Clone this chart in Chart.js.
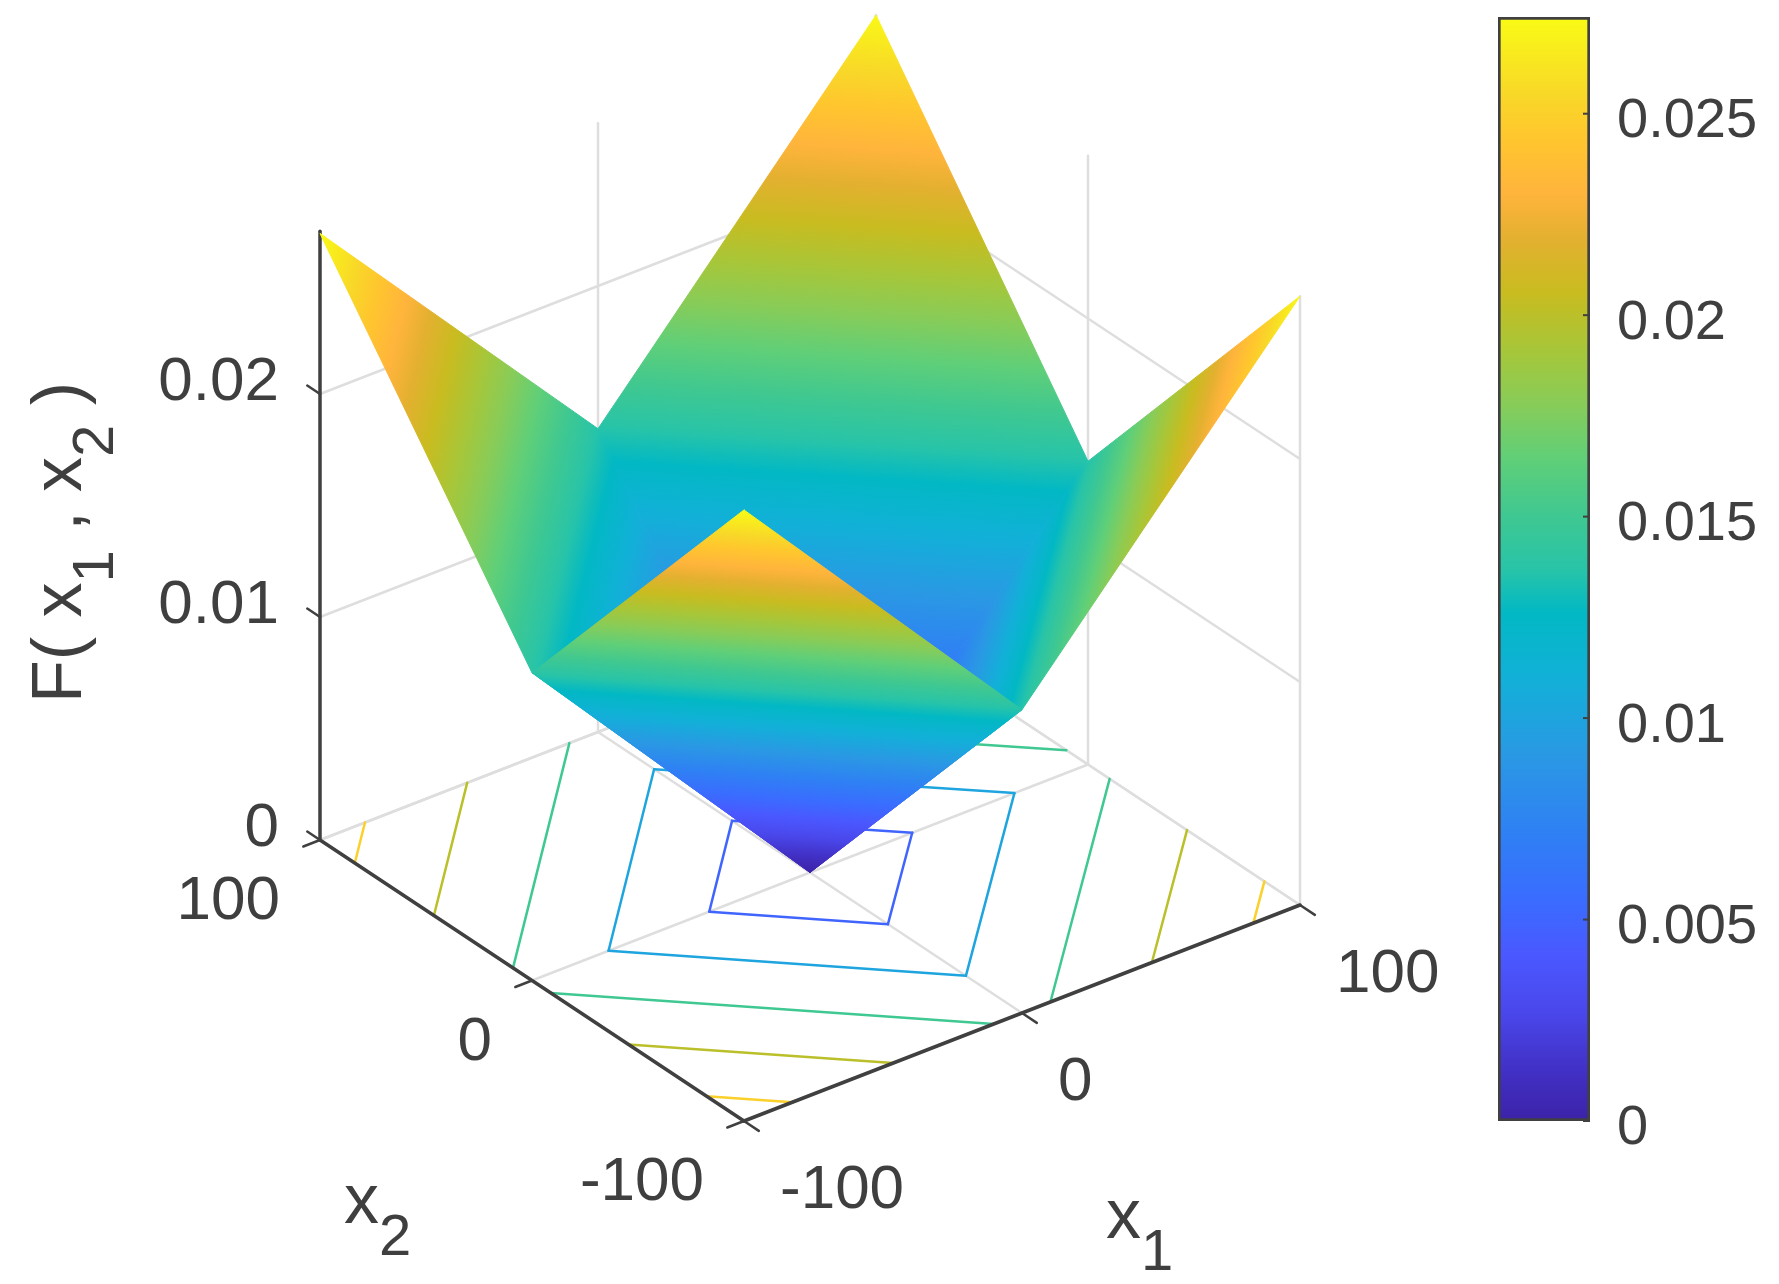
<!DOCTYPE html>
<html>
<head>
<meta charset="utf-8">
<title>F(x1, x2)</title>
<script src="https://cdn.jsdelivr.net/npm/chart.js@4"></script>
<style>
    html, body { margin: 0; padding: 0; background: #fff; }
    #wrap { position: relative; width: 1779px; height: 1284px; overflow: hidden; }
    canvas { position: absolute; top: 0; filter: blur(0.7px); }
    #surface { left: 0; }
    #colorbar { left: 1450px; }
</style>
</head>
<body>
<div id="wrap">
    <canvas id="surface" width="1779" height="1284"></canvas>
    <canvas id="colorbar" width="329" height="1284"></canvas>
</div>
<script>
// surface grid
const x1Values = [-100, 0, 100];
const x2Values = [-100, 0, 100];
const zRows = [
    [0.0274, 0.0136, 0.0273],  // x2 = -100
    [0.0138, 0, 0.0136],       // x2 = 0
    [0.0272, 0.0136, 0.0273]   // x2 = 100
];
const contourLevels = [0.005, 0.01, 0.015, 0.02, 0.025];

const x1Ticks = [-100, 0, 100];
const x2Ticks = [-100, 0, 100];
const zTicks = [0, 0.01, 0.02];
const zTop = 0.0273;

const colorbarRange = [0, 0.0274];
const colorbarTicks = [0, 0.005, 0.01, 0.015, 0.02, 0.025];

const FONT = '"Liberation Sans", Arial, sans-serif';
const TEXT_COLOR = '#3f3f3f';
const AXIS_COLOR = '#404040';
const GRID_COLOR = '#dedede';

// parula-like colormap sampled from the colorbar
const colorStops = [
    [0, '#3c22a8'], [0.05, '#4232c8'], [0.1, '#4a48ec'], [0.15, '#4a58ff'],
    [0.2, '#3a6cff'], [0.26, '#2f80f4'], [0.33, '#2a98e4'], [0.4, '#12b0d8'],
    [0.46, '#02b8c4'], [0.5, '#28c4a8'], [0.55, '#40c890'], [0.6, '#60cf78'],
    [0.65, '#88cc58'], [0.7, '#a8c638'], [0.75, '#c8bc20'], [0.8, '#e4b030'],
    [0.84, '#ffb43c'], [0.89, '#ffc62e'], [0.93, '#f8d828'], [1, '#f9fb15']
];

function hexToRgb(hex) {
    return [1, 3, 5].map(i => parseInt(hex.substr(i, 2), 16));
}

function colorAt(f) {
    for (let i = 1; i < colorStops.length; i++) {
        if (f <= colorStops[i][0]) {
            const [f0, c0] = colorStops[i - 1];
            const [f1, c1] = colorStops[i];
            const t = (f - f0) / (f1 - f0);
            const a = hexToRgb(c0), b = hexToRgb(c1);
            return 'rgb(' + a.map((v, k) => Math.round(v + (b[k] - v) * t)).join(',') + ')';
        }
    }
    return colorStops[colorStops.length - 1][1];
}

// view of the 3D box: centre of the floor and one unit along each axis
function project(x1, x2, z) {
    return {
        x: 810 + x1 * 2.78 - x2 * 2.12,
        y: 872.5 - x1 * 1.08 - x2 * 1.405 - z * 22300
    };
}

const datasets = [];

function addLine(points3d, color, width) {
    datasets.push({
        data: points3d.map(p => project(p[0], p[1], p[2])),
        showLine: true,
        borderColor: color,
        borderWidth: width,
        pointRadius: 0,
        fill: false,
        order: -datasets.length
    });
}

// back walls and floor grid
const xMin = x1Ticks[0], xMax = x1Ticks[2];
const yMin = x2Ticks[0], yMax = x2Ticks[2];
x1Ticks.forEach(v => {
    addLine([[v, yMin, 0], [v, yMax, 0]], GRID_COLOR, 2.5);
    addLine([[v, yMax, 0], [v, yMax, zTop]], GRID_COLOR, 2.5);
});
x2Ticks.forEach(v => {
    addLine([[xMin, v, 0], [xMax, v, 0]], GRID_COLOR, 2.5);
    addLine([[xMax, v, 0], [xMax, v, zTop]], GRID_COLOR, 2.5);
});
zTicks.forEach(v => {
    addLine([[xMin, yMax, v], [xMax, yMax, v]], GRID_COLOR, 2.5);
    addLine([[xMax, yMax, v], [xMax, yMin, v]], GRID_COLOR, 2.5);
});

// one entry per grid cell, back cells first so nearer cells paint over
const cells = [];
for (let j = 0; j < x2Values.length - 1; j++) {
    for (let i = 0; i < x1Values.length - 1; i++) {
        const corners = [[i, j], [i + 1, j], [i + 1, j + 1], [i, j + 1]]
            .map(([a, b]) => [x1Values[a], x2Values[b], zRows[b][a]]);
        cells.push(corners);
    }
}
cells.sort((a, b) => (b[0][0] + b[2][0] + b[0][1] + b[2][1]) - (a[0][0] + a[2][0] + a[0][1] + a[2][1]));

// contour lines on the floor, crossings found along the cell edges
contourLevels.forEach(level => {
    const color = colorAt(level / colorbarRange[1]);
    cells.forEach(corners => {
        const hits = [];
        corners.forEach((p, k) => {
            const q = corners[(k + 1) % 4];
            if ((p[2] - level) * (q[2] - level) < 0) {
                const t = (level - p[2]) / (q[2] - p[2]);
                hits.push([p[0] + (q[0] - p[0]) * t, p[1] + (q[1] - p[1]) * t, 0]);
            }
        });
        if (hits.length === 2) addLine(hits, color, 2.5);
    });
});

// axes and their tick marks
addLine([[xMin, yMax, 0], [xMin, yMax, zTop]], AXIS_COLOR, 3.5);
addLine([[xMin, yMax, 0], [xMin, yMin, 0]], AXIS_COLOR, 3.5);
addLine([[xMin, yMin, 0], [xMax, yMin, 0]], AXIS_COLOR, 3.5);
zTicks.forEach(v => addLine([[xMin, yMax, v], [xMin, yMax + 6, v]], AXIS_COLOR, 2.5));
x2Ticks.forEach(v => addLine([[xMin, v, 0], [xMin - 6, v, 0]], AXIS_COLOR, 2.5));
x1Ticks.forEach(v => addLine([[v, yMin, 0], [v, yMin - 7, 0]], AXIS_COLOR, 2.5));

// linear gradient of a flat facet, from its lowest corner up the steepest screen direction
function facetGradient(chart, corners) {
    if (!chart.chartArea) return colorAt(0.5);
    const xs = chart.scales.x, ys = chart.scales.y;
    const px = p => {
        const c = project(p[0], p[1], p[2]);
        return [xs.getPixelForValue(c.x), ys.getPixelForValue(c.y)];
    };
    let low = 0;
    corners.forEach((c, k) => { if (c[2] < corners[low][2]) low = k; });
    const p0 = corners[low], p1 = corners[(low + 1) % 4], p2 = corners[(low + 3) % 4];
    const a = px(p0), b = px(p1), c = px(p2);
    const ux = b[0] - a[0], uy = b[1] - a[1], vx = c[0] - a[0], vy = c[1] - a[1];
    const dz1 = p1[2] - p0[2], dz2 = p2[2] - p0[2];
    const det = ux * vy - uy * vx;
    const gx = (dz1 * vy - dz2 * uy) / det;
    const gy = (ux * dz2 - vx * dz1) / det;
    const span = (colorbarRange[1] - p0[2]) / (gx * gx + gy * gy);
    const grad = chart.ctx.createLinearGradient(a[0], a[1], a[0] + gx * span, a[1] + gy * span);
    colorStops.forEach(([f, col]) => {
        const pos = p0[2] / colorbarRange[1];
        if (f >= pos) grad.addColorStop((f - pos) / (1 - pos), col);
    });
    return grad;
}

// surface facets
cells.forEach(corners => {
    datasets.push({
        data: corners.concat([corners[0]]).map(p => project(p[0], p[1], p[2])),
        showLine: true,
        pointRadius: 0,
        borderWidth: 1,
        fill: 'shape',
        backgroundColor: ctx => facetGradient(ctx.chart, corners),
        borderColor: ctx => facetGradient(ctx.chart, corners),
        order: -datasets.length
    });
});

// text with subscripts, measured piece by piece
function drawPieces(ctx, pieces, x, y) {
    let pos = x;
    pieces.forEach(([text, sub]) => {
        ctx.font = (sub ? 58 : 70) + 'px ' + FONT;
        ctx.fillText(text, pos, sub ? y + 32 : y);
        pos += ctx.measureText(text).width;
    });
}

const axisText = {
    id: 'axisText',
    afterDraw(chart) {
        const ctx = chart.ctx;
        const xs = chart.scales.x, ys = chart.scales.y;
        const at = (a, b, c) => {
            const p = project(a, b, c);
            return [xs.getPixelForValue(p.x), ys.getPixelForValue(p.y)];
        };
        ctx.save();
        ctx.fillStyle = TEXT_COLOR;
        ctx.textBaseline = 'middle';
        ctx.font = '62px ' + FONT;

        ctx.textAlign = 'right';
        zTicks.forEach(v => {
            const [px, py] = at(xMin, yMax, v);
            ctx.fillText(String(v), px - 41, py - 11);
        });
        x2Ticks.forEach(v => {
            const [px, py] = at(xMin, v, 0);
            ctx.fillText(String(v), px - 40, py + 62);
        });
        ctx.textAlign = 'left';
        x1Ticks.forEach(v => {
            const [px, py] = at(v, yMin, 0);
            ctx.fillText(String(v), px + 36, py + 70);
        });

        ctx.textBaseline = 'alphabetic';
        drawPieces(ctx, [['x', false], ['2', true]], 344, 1223);
        drawPieces(ctx, [['x', false], ['1', true]], 1106, 1238);

        ctx.translate(81, 703);
        ctx.rotate(-Math.PI / 2);
        drawPieces(ctx, [['F( x', false], ['1', true], [' , x', false], ['2', true], [' )', false]], 0, 0);
        ctx.restore();
    }
};

new Chart(document.getElementById('surface'), {
    type: 'scatter',
    data: { datasets },
    options: {
        responsive: false,
        animation: false,
        devicePixelRatio: 1,
        events: [],
        elements: { line: { tension: 0, borderCapStyle: 'round' } },
        scales: {
            x: { type: 'linear', min: 0, max: 1779, display: false },
            y: { type: 'linear', min: 0, max: 1284, reverse: true, display: false }
        },
        plugins: { legend: { display: false }, tooltip: { enabled: false } }
    },
    plugins: [axisText]
});

// colorbar: one floating bar with the colormap and its own value axis
const innerTicks = {
    id: 'innerTicks',
    afterDatasetsDraw(chart) {
        const ctx = chart.ctx, area = chart.chartArea, ys = chart.scales.y;
        ctx.save();
        ctx.strokeStyle = AXIS_COLOR;
        ctx.lineWidth = 2;
        colorbarTicks.forEach(v => {
            const py = ys.getPixelForValue(v);
            ctx.beginPath();
            ctx.moveTo(area.right - 7, py);
            ctx.lineTo(area.right, py);
            ctx.stroke();
        });
        ctx.restore();
    }
};

new Chart(document.getElementById('colorbar'), {
    type: 'bar',
    data: {
        labels: ['F'],
        datasets: [{
            data: [colorbarRange],
            barPercentage: 1,
            categoryPercentage: 1,
            borderColor: AXIS_COLOR,
            borderWidth: 3,
            borderSkipped: false,
            backgroundColor: ctx => {
                const area = ctx.chart.chartArea;
                if (!area) return colorAt(0.5);
                const grad = ctx.chart.ctx.createLinearGradient(0, area.bottom, 0, area.top);
                colorStops.forEach(([f, col]) => grad.addColorStop(f, col));
                return grad;
            }
        }]
    },
    options: {
        responsive: false,
        animation: false,
        devicePixelRatio: 1,
        events: [],
        layout: { padding: { left: 48, top: 17, bottom: 163, right: 0 } },
        scales: {
            x: { display: false },
            y: {
                position: 'right',
                min: colorbarRange[0],
                max: colorbarRange[1],
                afterBuildTicks: axis => { axis.ticks = colorbarTicks.map(value => ({ value })); },
                afterFit: axis => { axis.width = 189; axis.paddingTop = 0; axis.paddingBottom = 0; },
                border: { display: false },
                grid: { display: false, drawTicks: false },
                ticks: {
                    padding: 27,
                    labelOffset: 8,
                    color: TEXT_COLOR,
                    font: { size: 56, family: FONT },
                    callback: v => String(v)
                }
            }
        },
        plugins: { legend: { display: false }, tooltip: { enabled: false } }
    },
    plugins: [innerTicks]
});
</script>
</body>
</html>
